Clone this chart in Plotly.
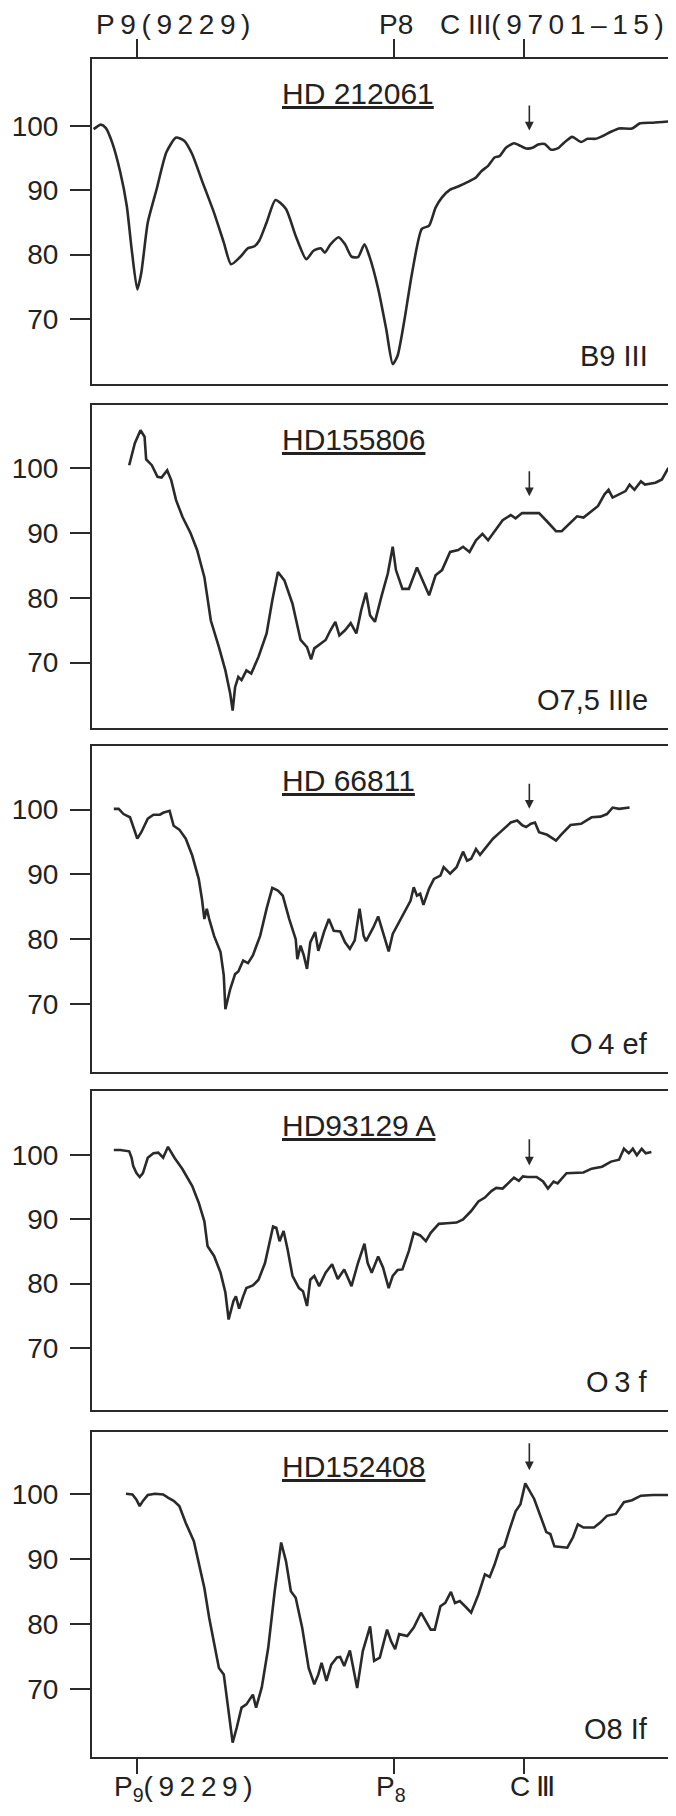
"""Near-IR spectra of five early-type stars around P9, P8 and C III (9701-15)."""

import plotly.graph_objects as go

# ── data ────────────────────────────────────────────────────────────────────
STARS = ["HD 212061", "HD155806", "HD 66811", "HD93129 A", "HD152408"]
SPTYPES = ["B9 III", "O7,5 IIIe", "O\u20094 ef", "O\u20093 f", "O8 If"]

WL_1 = [9175, 9184, 9190, 9198, 9208, 9216, 9222, 9229, 9234, 9242, 9253, 9265, 9277, 9287, 9297, 9309, 9324,
        9336, 9345, 9356, 9366, 9374, 9380, 9389, 9400, 9413, 9425, 9438, 9447, 9456, 9461, 9468, 9478, 9486,
        9494, 9502, 9510, 9516, 9527, 9537, 9545, 9551, 9559, 9569, 9581, 9590, 9598, 9606, 9616, 9628, 9638,
        9648, 9655, 9663, 9671, 9677, 9685, 9695, 9703, 9710, 9718, 9725, 9733, 9741, 9749, 9757, 9767, 9778,
        9786, 9796, 9804, 9815, 9825, 9841, 9851, 9867, 9886]
FLUX_1 = [99.5, 100.2, 99.7, 97.4, 92.8, 87.6, 80.9, 74.6, 77.2, 85.0, 90.2, 95.9, 98.2, 97.7, 95.6, 91.5, 86.5,
          81.9, 78.5, 79.6, 81.0, 81.3, 82.2, 85.0, 88.5, 87.1, 82.9, 79.3, 80.6, 81.0, 80.3, 81.6, 82.7, 81.6,
          79.7, 79.6, 81.6, 79.8, 74.7, 68.4, 63.0, 64.3, 69.5, 77.2, 84.0, 84.5, 87.3, 88.9, 90.1, 90.7, 91.3,
          92.0, 93.0, 93.8, 95.1, 95.3, 96.6, 97.3, 96.9, 96.5, 96.6, 97.1, 97.2, 96.3, 96.5, 97.4, 98.3, 97.5,
          98.0, 98.0, 98.4, 99.1, 99.6, 99.6, 100.4, 100.5, 100.7]

WL_2 = [9219, 9226, 9233, 9238, 9240, 9247, 9254, 9259, 9266, 9271, 9277, 9285, 9295, 9303, 9312, 9320, 9330,
        9338, 9344, 9347, 9350, 9354, 9358, 9364, 9370, 9379, 9389, 9396, 9403, 9411, 9421, 9431, 9439, 9444,
        9448, 9456, 9462, 9468, 9474, 9479, 9486, 9493, 9500, 9506, 9512, 9517, 9523, 9531, 9539, 9545, 9549,
        9557, 9565, 9575, 9584, 9590, 9598, 9606, 9616, 9626, 9632, 9640, 9648, 9656, 9663, 9673, 9681, 9691,
        9697, 9705, 9726, 9736, 9747, 9754, 9762, 9773, 9781, 9791, 9799, 9807, 9812, 9817, 9825, 9833, 9838,
        9844, 9852, 9857, 9870, 9878, 9886]
FLUX_2 = [100.5, 103.9, 105.9, 104.9, 101.4, 100.5, 98.7, 98.6, 99.7, 98.2, 95.1, 92.5, 90.0, 87.4, 83.2, 76.5,
          72.4, 68.8, 65.2, 62.6, 66.2, 67.8, 67.3, 68.8, 68.3, 70.9, 74.5, 79.6, 84.0, 82.7, 79.1, 73.5, 72.4,
          70.5, 72.2, 72.9, 73.5, 75.0, 76.3, 74.2, 75.0, 76.1, 74.5, 78.1, 80.8, 77.3, 76.3, 80.2, 83.8, 87.9,
          84.3, 81.4, 81.4, 84.7, 82.2, 80.4, 83.5, 84.3, 87.1, 87.4, 87.9, 87.1, 88.9, 89.9, 88.9, 90.7, 92.0,
          92.8, 92.3, 93.1, 93.1, 91.8, 90.3, 90.3, 91.3, 92.6, 92.4, 93.4, 94.2, 96.0, 96.7, 95.5, 96.0, 96.5,
          97.5, 96.7, 98.0, 97.5, 97.8, 98.3, 100.1]

WL_3 = [9200, 9206, 9212, 9220, 9225, 9229, 9234, 9242, 9249, 9257, 9261, 9269, 9274, 9281, 9289, 9297, 9305,
        9309, 9312, 9315, 9318, 9324, 9332, 9336, 9338, 9344, 9350, 9354, 9360, 9366, 9372, 9381, 9389, 9396,
        9403, 9409, 9417, 9425, 9427, 9431, 9435, 9439, 9443, 9449, 9453, 9460, 9466, 9472, 9480, 9486, 9492,
        9498, 9504, 9509, 9512, 9521, 9527, 9533, 9540, 9545, 9553, 9561, 9567, 9571, 9575, 9579, 9583, 9590,
        9596, 9604, 9608, 9616, 9624, 9632, 9637, 9642, 9648, 9653, 9661, 9669, 9677, 9685, 9691, 9699, 9705,
        9710, 9716, 9721, 9726, 9736, 9747, 9754, 9765, 9778, 9791, 9802, 9810, 9817, 9825, 9838]
FLUX_3 = [100.1, 100.1, 99.3, 98.8, 97.0, 95.5, 96.5, 98.6, 99.2, 99.2, 99.5, 99.8, 97.5, 96.9, 95.5, 92.9, 89.3,
          86.2, 83.1, 84.7, 83.1, 80.5, 78.0, 74.4, 69.2, 72.3, 74.6, 75.0, 76.7, 76.3, 77.5, 80.5, 84.7, 87.9,
          87.5, 86.7, 83.1, 80.0, 76.9, 79.0, 77.5, 75.4, 79.5, 81.1, 78.2, 81.1, 83.1, 81.3, 81.2, 79.5, 78.5,
          79.8, 84.7, 80.5, 79.7, 81.8, 83.5, 81.1, 78.1, 80.8, 82.6, 84.4, 85.9, 88.0, 86.7, 87.0, 85.3, 87.8,
          89.3, 89.8, 91.1, 90.1, 91.1, 93.5, 92.1, 92.4, 93.9, 93.0, 94.2, 95.5, 96.4, 97.3, 98.0, 98.3, 97.6,
          97.3, 97.8, 98.0, 96.5, 96.1, 95.2, 96.2, 97.6, 97.8, 98.8, 98.9, 99.3, 100.3, 100.1, 100.3]

WL_4 = [9200, 9208, 9219, 9222, 9224, 9228, 9232, 9236, 9242, 9249, 9255, 9261, 9267, 9275, 9285, 9297, 9305,
        9312, 9316, 9324, 9332, 9338, 9342, 9348, 9351, 9355, 9360, 9364, 9372, 9379, 9387, 9393, 9397, 9401,
        9405, 9410, 9415, 9421, 9429, 9434, 9439, 9443, 9448, 9454, 9462, 9470, 9477, 9485, 9494, 9502, 9510,
        9514, 9519, 9527, 9533, 9540, 9545, 9551, 9557, 9565, 9571, 9579, 9586, 9592, 9602, 9612, 9624, 9632,
        9642, 9651, 9659, 9667, 9673, 9681, 9689, 9695, 9701, 9706, 9712, 9723, 9731, 9737, 9744, 9749, 9760,
        9770, 9781, 9791, 9804, 9815, 9825, 9831, 9837, 9842, 9847, 9853, 9858, 9865]
FLUX_4 = [100.8, 100.8, 100.6, 99.6, 98.3, 97.2, 96.6, 97.2, 99.6, 100.3, 100.4, 99.6, 101.3, 99.6, 97.8, 95.2,
          92.6, 89.7, 85.8, 84.3, 81.7, 78.6, 74.4, 77.3, 78.0, 76.1, 78.0, 79.3, 79.7, 80.6, 83.2, 86.9, 88.9,
          88.7, 86.6, 88.2, 85.3, 81.2, 79.3, 78.8, 76.5, 80.6, 81.2, 79.6, 81.7, 83.0, 80.7, 82.2, 79.6, 83.2,
          86.2, 83.2, 81.7, 84.2, 82.5, 79.3, 81.2, 82.1, 82.2, 85.1, 87.9, 87.5, 86.6, 87.9, 89.3, 89.4, 89.5,
          90.0, 91.3, 92.8, 93.4, 94.4, 94.9, 94.8, 95.7, 96.5, 96.0, 96.7, 96.6, 96.6, 95.9, 94.8, 95.9, 95.6,
          97.2, 97.3, 97.3, 97.9, 98.2, 99.0, 99.3, 101.0, 100.3, 101.0, 100.0, 101.0, 100.3, 100.5]

WL_5 = [9215, 9223, 9228, 9232, 9236, 9242, 9251, 9261, 9267, 9274, 9281, 9289, 9299, 9305, 9312, 9318, 9324,
        9330, 9336, 9342, 9347, 9352, 9358, 9364, 9372, 9376, 9383, 9391, 9399, 9407, 9413, 9419, 9425, 9433,
        9441, 9448, 9453, 9457, 9463, 9469, 9476, 9480, 9485, 9492, 9496, 9501, 9508, 9517, 9522, 9529, 9538,
        9543, 9548, 9553, 9563, 9571, 9580, 9586, 9592, 9597, 9604, 9610, 9617, 9622, 9628, 9636, 9642, 9651,
        9659, 9665, 9671, 9677, 9683, 9689, 9697, 9703, 9709, 9720, 9728, 9735, 9740, 9745, 9761, 9768, 9774,
        9781, 9794, 9802, 9810, 9821, 9831, 9841, 9852, 9867, 9886]
FLUX_5 = [100.0, 99.9, 99.1, 98.1, 98.9, 99.8, 100.0, 99.9, 99.4, 98.9, 98.1, 95.5, 92.7, 89.6, 85.5, 80.9, 77.3,
          73.2, 72.2, 66.6, 61.7, 64.0, 67.1, 67.6, 69.1, 67.1, 70.2, 76.3, 85.0, 92.5, 89.6, 85.0, 84.0, 79.4,
          73.2, 70.7, 72.2, 74.0, 71.2, 73.7, 74.8, 74.9, 73.5, 75.9, 73.2, 70.1, 75.8, 79.6, 74.3, 74.8, 79.1,
          77.3, 76.1, 78.4, 78.1, 79.4, 81.7, 80.4, 79.1, 79.1, 82.7, 83.2, 84.9, 83.2, 83.5, 82.5, 81.7, 84.5,
          87.6, 87.2, 89.1, 91.4, 91.9, 94.3, 97.3, 98.4, 101.6, 99.2, 96.6, 94.1, 93.8, 91.9, 91.7, 93.3, 95.3,
          94.8, 94.8, 95.6, 96.6, 96.9, 98.7, 99.0, 99.7, 99.8, 99.8]

WAVELENGTHS = [WL_1, WL_2, WL_3, WL_4, WL_5]
FLUXES = [FLUX_1, FLUX_2, FLUX_3, FLUX_4, FLUX_5]

LINE_WL = [9229, 9546, 9708]          # P9, P8, C III
FLUX_TICKS = [70, 80, 90, 100]
ARROW_WL = 9714
ARROW_TIP = [99.3, 95.7, 100.1, 98.4, 103.6]
ARROW_TAIL = [103.4, 99.8, 104.2, 102.7, 108.0]

# ── layout (page pixels of the reference; the html body adds an 8px margin) ─
PAD = 8
PAGE_W, PAGE_H = 676, 1816
W, H = PAGE_W - PAD, PAGE_H - PAD
PLOT_L, PLOT_R, PLOT_T, PLOT_B = 86, 672, 59, 1757
PANEL_TOP = [59, 405, 746, 1091, 1432]
PANEL_BOT = [384, 728, 1072, 1410, 1757]
Y_RANGES = [[59.9, 110.4], [59.9, 109.8], [59.5, 109.8], [60.3, 110.0], [59.5, 109.5]]
X_RANGE = [9173, 9888]
INK = "#2a2a2a"
TXT = "#222222"
FONT = "Liberation Sans, Arial, sans-serif"
THIN = "\u2009"


def spread(s):
    return THIN.join(s)


plot_h = PLOT_B - PLOT_T
fig = go.Figure()
layout = {}
annotations = []

for i in range(5):
    sfx = "" if i == 0 else str(i + 1)
    fig.add_trace(
        go.Scatter(
            x=WAVELENGTHS[i],
            y=FLUXES[i],
            xaxis=f"x{sfx}",
            yaxis=f"y{sfx}",
            mode="lines",
            line=dict(color=INK, width=2.6, shape="spline" if i == 0 else "linear", smoothing=0.6),
            showlegend=False,
            hoverinfo="skip",
        )
    )
    dom = [(PLOT_B - PANEL_BOT[i]) / plot_h, (PLOT_B - PANEL_TOP[i]) / plot_h]
    xa = dict(
        domain=[0, 1],
        anchor=f"y{sfx}",
        range=X_RANGE,
        showgrid=False,
        zeroline=False,
        showline=True,
        mirror=True,
        linecolor=INK,
        linewidth=2,
        showticklabels=False,
        ticks="",
    )
    if i == 0:
        xa.update(side="top", ticks="outside", tickvals=LINE_WL, ticklen=18, tickwidth=2, tickcolor=INK)
    if i == 4:
        xa.update(side="bottom", ticks="outside", tickvals=LINE_WL, ticklen=15, tickwidth=2, tickcolor=INK)
    layout[f"xaxis{sfx}"] = xa
    layout[f"yaxis{sfx}"] = dict(
        domain=dom,
        anchor=f"x{sfx}",
        range=Y_RANGES[i],
        showgrid=False,
        zeroline=False,
        showline=True,
        mirror=True,
        linecolor=INK,
        linewidth=2,
        ticks="outside",
        tickvals=FLUX_TICKS,
        ticklen=20,
        tickwidth=2,
        tickcolor=INK,
        ticklabelstandoff=6,
        tickfont=dict(family=FONT, size=28, color=TXT),
    )

    # star name, underlined
    annotations.append(dict(
        text=f"<u>{STARS[i]}</u>", xref="paper", yref=f"y{sfx} domain",
        x=(277 - PLOT_L) / (PLOT_R - PLOT_L), y=1, xanchor="left", yanchor="top", yshift=-16,
        showarrow=False, font=dict(family=FONT, size=30, color=TXT),
    ))
    # spectral type
    annotations.append(dict(
        text=SPTYPES[i], xref="paper", yref=f"y{sfx} domain",
        x=1, y=0, xanchor="right", yanchor="bottom", xshift=-20, yshift=10,
        showarrow=False, font=dict(family=FONT, size=29, color=TXT),
    ))
    # C III arrow
    annotations.append(dict(
        x=ARROW_WL, y=ARROW_TIP[i], ax=ARROW_WL, ay=ARROW_TAIL[i],
        xref=f"x{sfx}", yref=f"y{sfx}", axref=f"x{sfx}", ayref=f"y{sfx}",
        text="", showarrow=True, arrowhead=2, arrowsize=1.1, arrowwidth=1.6, arrowcolor=INK,
    ))

# line identifications along the top
top_labels = [spread("P9(9229)"), "P8", "C III" + spread("(9701–15)")]
top_anchor = [("left", -43), ("center", 2), ("left", -86)]
for wl, txt, (anc, dx) in zip(LINE_WL, top_labels, top_anchor):
    annotations.append(dict(
        text=txt, xref="x", yref="paper", x=wl, y=1, xanchor=anc, yanchor="bottom",
        xshift=dx, yshift=17, showarrow=False, font=dict(family=FONT, size=28, color=TXT),
    ))

# and along the bottom
bot_labels = ["P<sub>9</sub>" + spread("(9229)"), "P<sub>8</sub>", "C\u2009Ⅲ"]
bot_anchor = [("left", -25), ("center", -3), ("center", 8)]
for wl, txt, (anc, dx) in zip(LINE_WL, bot_labels, bot_anchor):
    annotations.append(dict(
        text=txt, xref="x5", yref="paper", x=wl, y=0, xanchor=anc, yanchor="top",
        xshift=dx, yshift=-12, showarrow=False, font=dict(family=FONT, size=28, color=TXT),
    ))

fig.update_layout(
    width=W,
    height=H,
    margin=dict(l=PLOT_L - PAD, r=PAGE_W - PLOT_R, t=PLOT_T - PAD, b=PAGE_H - PLOT_B),
    paper_bgcolor="white",
    plot_bgcolor="white",
    showlegend=False,
    annotations=annotations,
    **layout,
)

fig.write_html("out.html")
